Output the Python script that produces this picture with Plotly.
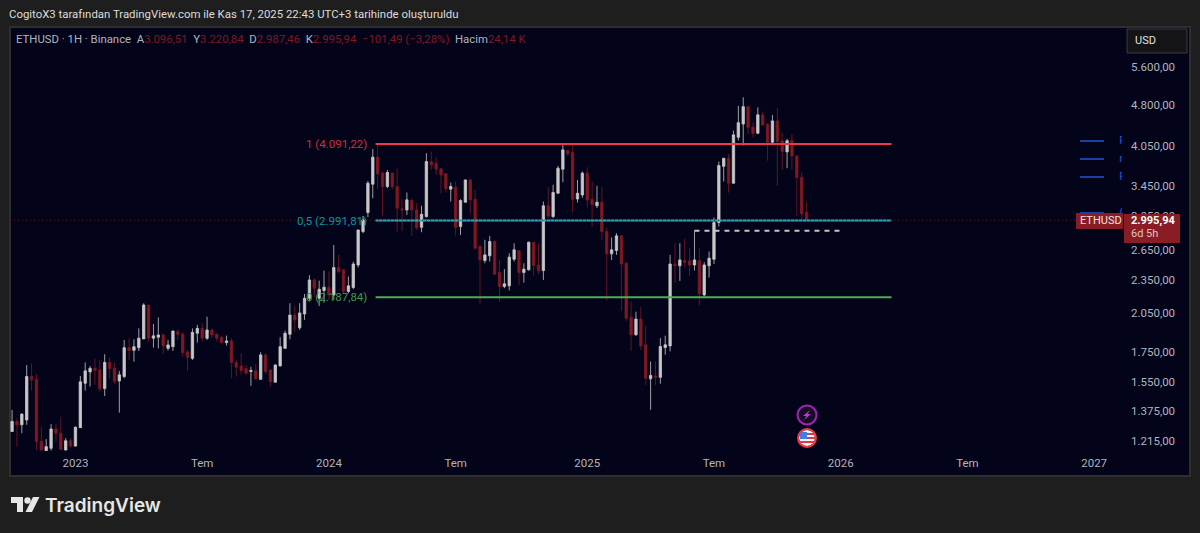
import pandas as pd
import plotly.graph_objects as go

# Weekly ETHUSD candles
start_date = "2022-10-03"
opens = [
    1265, 1318, 1300, 1326, 1583, 1565, 1216, 1170, 1181, 1278,
    1256, 1173, 1218, 1192, 1285, 1540, 1613, 1637, 1626, 1507,
    1677, 1639, 1555, 1583, 1781, 1762, 1781, 1846, 2115, 1851,
    1858, 1876, 1776, 1788, 1901, 1884, 1750, 1705, 1889, 1927,
    1851, 1914, 1881, 1858, 1818, 1831, 1675, 1653, 1635, 1616,
    1620, 1565, 1729, 1626, 1547, 1653, 1776, 1881, 2034, 1931,
    2044, 2179, 2348, 2179, 2249, 2280, 2209, 2470, 2447, 2240,
    2277, 2496, 2860, 3091, 3471, 3876, 3631, 3438, 3631, 3438,
    3138, 3125, 3247, 3125, 2911, 3041, 3807, 3780, 3695, 3621,
    3401, 3429, 2919, 3225, 3531, 3264, 2690, 2541, 2591, 2747,
    2420, 2286, 2292, 2555, 2648, 2420, 2447, 2735, 2496, 2440,
    3178, 3041, 3345, 3690, 3982, 3950, 3268, 3322, 3631, 3264,
    3178, 3225, 2860, 2612, 2648, 2811, 2513, 2017, 1877, 2001,
    1802, 1568, 1587, 1578, 1782, 1794, 2503, 2487, 2541, 2538,
    2496, 2541, 2209, 2487, 2555, 2968, 3733, 3857, 3485, 4204,
    4438, 4763, 4380, 4274, 4606, 4432, 4119, 4494, 4146, 3960,
    4146, 3895, 3571, 3096.51,
]
highs = [
    1381, 1335, 1362, 1659, 1670, 1600, 1291, 1226, 1303, 1305,
    1344, 1231, 1231, 1291, 1587, 1677, 1653, 1705, 1694, 1734,
    1712, 1675, 1620, 1838, 1851, 1843, 1927, 2135, 2125, 1962,
    2016, 1889, 1838, 1909, 1922, 1896, 1764, 1927, 1954, 1968,
    2021, 1927, 1889, 1869, 1871, 1851, 1694, 1741, 1659, 1648,
    1666, 1748, 1741, 1629, 1664, 1858, 1909, 2135, 2112, 2135,
    2218, 2394, 2364, 2342, 2440, 2430, 2709, 2601, 2454, 2381,
    2531, 2885, 3049, 3517, 4009, 4103, 3655, 3680, 3641, 3715,
    3264, 3355, 3277, 3212, 3178, 3939, 3966, 3876, 3705, 3631,
    3494, 3508, 3264, 3540, 3546, 3392, 2709, 2766, 2811, 2758,
    2548, 2454, 2619, 2728, 2655, 2513, 2747, 2747, 2728, 3234,
    3429, 3462, 3740, 4074, 3993, 4103, 3531, 3655, 3720, 3517,
    3448, 3429, 2907, 2792, 2841, 2819, 2525, 2150, 2063, 2101,
    1947, 1683, 1683, 1852, 1870, 2601, 2728, 2728, 2777, 2672,
    2871, 2672, 2524, 2637, 3029, 3807, 3868, 3928, 4321, 4776,
    4949, 4776, 4469, 4750, 4669, 4450, 4606, 4743, 4285, 4175,
    4263, 3900, 3643, 3220.84,
]
lows = [
    1262, 1189, 1256, 1300, 1495, 1173, 1170, 1168, 1170, 1214,
    1173, 1170, 1184, 1189, 1283, 1495, 1520, 1530, 1489, 1462,
    1572, 1536, 1366, 1572, 1694, 1682, 1757, 1844, 1826, 1781,
    1776, 1736, 1760, 1757, 1838, 1717, 1622, 1694, 1818, 1826,
    1838, 1851, 1826, 1813, 1796, 1572, 1583, 1594, 1594, 1524,
    1561, 1561, 1600, 1520, 1545, 1650, 1774, 1843, 1901, 1915,
    1995, 2150, 2193, 2112, 2141, 2164, 2164, 2414, 2224, 2224,
    2261, 2470, 2841, 3033, 3277, 3401, 3054, 3415, 3401, 2860,
    2871, 3062, 2811, 2879, 2853, 3029, 3680, 3606, 3345, 3355,
    3234, 2815, 2822, 3221, 3082, 2655, 2130, 2513, 2531, 2398,
    2150, 2270, 2249, 2531, 2301, 2323, 2440, 2388, 2407, 2348,
    3021, 3021, 3336, 3499, 3897, 3091, 3221, 3285, 3156, 2919,
    3147, 2758, 2158, 2548, 2601, 2069, 1987, 1758, 1870, 1765,
    1530, 1382, 1530, 1537, 1730, 1754, 2323, 2339, 2470, 2388,
    2440, 2115, 2193, 2371, 2506, 2919, 3509, 3354, 3476, 4146,
    4064, 4257, 4198, 4257, 4415, 3821, 4075, 3447, 3679, 3705,
    3679, 3050, 3008, 2987.46,
]
closes = [
    1318, 1300, 1358, 1583, 1561, 1214, 1173, 1189, 1278, 1256,
    1176, 1218, 1192, 1287, 1549, 1620, 1637, 1622, 1505, 1677,
    1635, 1553, 1594, 1781, 1760, 1788, 1851, 2120, 1851, 1869,
    1876, 1793, 1801, 1906, 1881, 1746, 1712, 1896, 1927, 1851,
    1914, 1876, 1851, 1818, 1831, 1677, 1644, 1622, 1605, 1622,
    1570, 1729, 1616, 1551, 1659, 1788, 1889, 2034, 1994, 2052,
    2179, 2348, 2270, 2261, 2280, 2209, 2470, 2430, 2240, 2292,
    2506, 2879, 3001, 3485, 3876, 3621, 3438, 3641, 3438, 3147,
    3125, 3256, 3125, 2907, 3070, 3807, 3755, 3690, 3606, 3406,
    3438, 2911, 3247, 3531, 3256, 2672, 2548, 2601, 2747, 2404,
    2286, 2311, 2577, 2655, 2420, 2454, 2739, 2490, 2437, 3178,
    3049, 3355, 3705, 3993, 3929, 3264, 3345, 3631, 3256, 3191,
    3225, 2860, 2612, 2655, 2811, 2506, 2009, 1877, 2001, 1794,
    1572, 1590, 1578, 1789, 1802, 2506, 2490, 2548, 2524, 2496,
    2548, 2218, 2496, 2566, 2968, 3745, 3857, 3485, 4245, 4462,
    4763, 4374, 4274, 4606, 4421, 4119, 4494, 4130, 3966, 4146,
    3895, 3566, 3075, 2995.94,
]

# Axis ticks
price_ticks = [5600, 4800, 4050, 3450, 3050, 2650, 2350, 2050, 1750, 1550, 1375, 1215]
price_labels = ["5.600,00", "4.800,00", "4.050,00", "3.450,00", "3.050,00", "2.650,00",
                "2.350,00", "2.050,00", "1.750,00", "1.550,00", "1.375,00", "1.215,00"]
date_ticks = ["2023-01-02", "2023-07-03", "2024-01-01", "2024-07-01", "2025-01-06",
              "2025-07-07", "2026-01-05", "2026-07-06", "2027-01-04"]
date_labels = ["2023", "Tem", "2024", "Tem", "2025", "Tem", "2026", "Tem", "2027"]

# Fib levels and drawn lines
fib_start = "2024-03-08"
fib_end = "2026-03-19"
fib_levels = [4091.22, 2991.81, 2187.84]
fib_colors = ["#f23645", "#00bcd4", "#4caf50"]
dash_dates = ["2025-06-09", "2026-01-05"]
dash_price = 2871
last_price = 2995.94

# Cut off legend rows on the right edge
legend_prices = [4140, 3847, 3574, 3086]
legend_letters = ["P", "r", "P", "("]
legend_date = "2027-02-09"

W = 1200
H = 533
PANEL = "#03031a"
FRAME = "#1e1e1e"
RED = "#801922"
GREY = "#b2b5be"
BLUE = "#2157d8"
FONT = "Roboto"


def fx(x):
    return x / W


def fy(y):
    return 1 - y / H


def box(x0, y0, x1, y1, **kw):
    return dict(type="rect", xref="paper", yref="paper", x0=fx(x0), x1=fx(x1), y0=fy(y0), y1=fy(y1), **kw)


def ring(cx, cy, r, **kw):
    return dict(type="circle", xref="paper", yref="paper", x0=fx(cx - r), x1=fx(cx + r), y0=fy(cy - r), y1=fy(cy + r), **kw)


def poly(points, color):
    path = "M " + " L ".join(f"{fx(x):.5f} {fy(y):.5f}" for x, y in points) + " Z"
    return dict(type="path", xref="paper", yref="paper", path=path, fillcolor=color, line_width=0)


def label(x, y, text, color=GREY, size=12, anchor="left", weight=None, family=FONT):
    return dict(xref="paper", yref="paper", x=fx(x), y=fy(y), text=text, showarrow=False,
                xanchor=anchor, yanchor="middle", align=anchor,
                font=dict(color=color, size=size, family=family, weight=weight))


dates = pd.date_range(start_date, periods=len(opens), freq="7D")

fig = go.Figure()
fig.add_trace(go.Candlestick(
    x=dates, open=opens, high=highs, low=lows, close=closes,
    increasing=dict(line=dict(color="#c8c8c8", width=0.8), fillcolor="#c8c8c8"),
    decreasing=dict(line=dict(color=RED, width=0.8), fillcolor=RED),
    showlegend=False,
))

for level, color in zip(fib_levels, fib_colors):
    fig.add_trace(go.Scatter(x=[fib_start, fib_end], y=[level, level], mode="lines",
                             line=dict(color=color, width=2), showlegend=False))

fig.add_trace(go.Scatter(x=[dash_dates[0], dash_dates[1]], y=[dash_price, dash_price], mode="lines",
                         line=dict(color="#c4c4c4", width=2, dash="5px,5px"), showlegend=False))
fig.add_trace(go.Scatter(x=[legend_date] * 4, y=legend_prices, mode="text", text=legend_letters,
                         textposition="middle right", cliponaxis=True,
                         textfont=dict(color=BLUE, size=11, family=FONT), showlegend=False))

shapes = [
    box(10, 27, 1190, 476, fillcolor=PANEL, line=dict(color="#2e2e2e", width=2), layer="below"),
    dict(type="line", xref="paper", yref="y", x0=fx(10), x1=fx(1076), y0=last_price, y1=last_price,
         line=dict(color="#5e1820", width=1, dash="1px,3px"), layer="above"),
]
for y in [141, 159, 177, 213]:
    shapes.append(dict(type="line", xref="paper", yref="paper", x0=fx(1080), x1=fx(1104), y0=fy(y), y1=fy(y),
                       line=dict(color=BLUE, width=1.5)))

# USD button and price tags
shapes += [
    box(1127, 29, 1187, 53, fillcolor="#141416", line=dict(color="#3c3c3c", width=1)),
    box(1076, 213, 1123, 229, fillcolor="#8a1c25", line_width=0),
    box(1124, 214, 1180, 243, fillcolor="#8a1c25", line_width=0),
]

# Event icons
shapes += [
    ring(807, 415, 9.5, fillcolor="#1c0a2c", line=dict(color="#9c27b0", width=2)),
    poly([(810, 410), (803, 416), (806.5, 416), (804, 420), (811, 414), (807.5, 414)], "#ab47bc"),
    ring(807, 438, 8, fillcolor="#f2f2f2", line_width=0),
    box(800, 432, 807, 439, fillcolor="#3f7fe8", line_width=0),
    box(807, 433, 815, 435, fillcolor="#e03a45", line_width=0),
    box(807, 437, 815, 439, fillcolor="#e03a45", line_width=0),
    box(800, 441, 815, 443, fillcolor="#e03a45", line_width=0),
    ring(807, 438, 9, fillcolor="rgba(0,0,0,0)", line=dict(color="#f23645", width=2)),
]

# TradingView logo mark
shapes += [
    poly([(11, 497), (23, 497), (23, 512), (17, 512), (17, 503), (11, 503)], "#e6e6e6"),
    ring(27.5, 500.5, 3.2, fillcolor="#e6e6e6", line_width=0),
    poly([(33, 497), (39.5, 497), (32, 512), (25.5, 512)], "#e6e6e6"),
]

header = ("ETHUSD · 1H · Binance  "
          f"A<span style='color:{RED}'>3.096,51</span>  "
          f"Y<span style='color:{RED}'>3.220,84</span>  "
          f"D<span style='color:{RED}'>2.987,46</span>  "
          f"K<span style='color:{RED}'>2.995,94  −101,49 (−3,28%)</span>  "
          f"Hacim<span style='color:{RED}'>24,14 K</span>")

annotations = [
    label(7, 14, "CogitoX3 tarafından TradingView.com ile Kas 17, 2025 22:43 UTC+3 tarihinde oluşturuldu",
          color="#dcdcdc", size=11.4),
    label(14, 39, header, size=11.35),
    label(1133, 41, "USD", color="#e0e0e0", size=11),
    label(369, 144, "1 (4.091,22)", color="#c8313f", size=11.5, anchor="right"),
    label(369, 221, "0,5 (2.991,81)", color="#0097a7", size=11.5, anchor="right"),
    label(369, 297, "0 (2.187,84)", color="#3f9a43", size=11.5, anchor="right"),
    label(1078, 221, "ETHUSD", color="#f0e0e0", size=11),
    label(1129, 221, "2.995,94", color="#ffffff", size=11, weight=700),
    label(1129, 234, "6d 5h", color="#e3c2c2", size=11),
    label(43, 505, "TradingView", color="#e6e6e6", size=19, weight=600, family="Inter"),
]

fig.update_layout(
    width=W,
    height=H,
    margin=dict(l=0, r=0, t=0, b=0),
    paper_bgcolor=FRAME,
    plot_bgcolor="rgba(0,0,0,0)",
    dragmode="pan",
    shapes=shapes,
    annotations=annotations,
    xaxis=dict(
        domain=[fx(10), fx(1122)],
        range=["2022-09-30", "2027-02-13"],
        rangeslider=dict(visible=False),
        tickmode="array",
        tickvals=date_ticks,
        ticktext=date_labels,
        tickfont=dict(color=GREY, size=11.5, family=FONT),
        ticks="",
        ticklabelstandoff=1,
        showgrid=False,
        zeroline=False,
        showline=False,
    ),
    yaxis=dict(
        domain=[fy(453), fy(27)],
        type="log",
        autorange=False,
        range=[3.06393, 3.81909],
        side="right",
        tickmode="array",
        tickvals=price_ticks,
        ticktext=price_labels,
        tickfont=dict(color=GREY, size=11.5, family=FONT),
        ticks="",
        ticklabelstandoff=8,
        showgrid=False,
        zeroline=False,
        showline=False,
    ),
)

# page margin off so the figure sits at the window corner
fig.write_html("out.html", config=dict(displayModeBar=False),
               post_script="document.body.style.margin='0';")
